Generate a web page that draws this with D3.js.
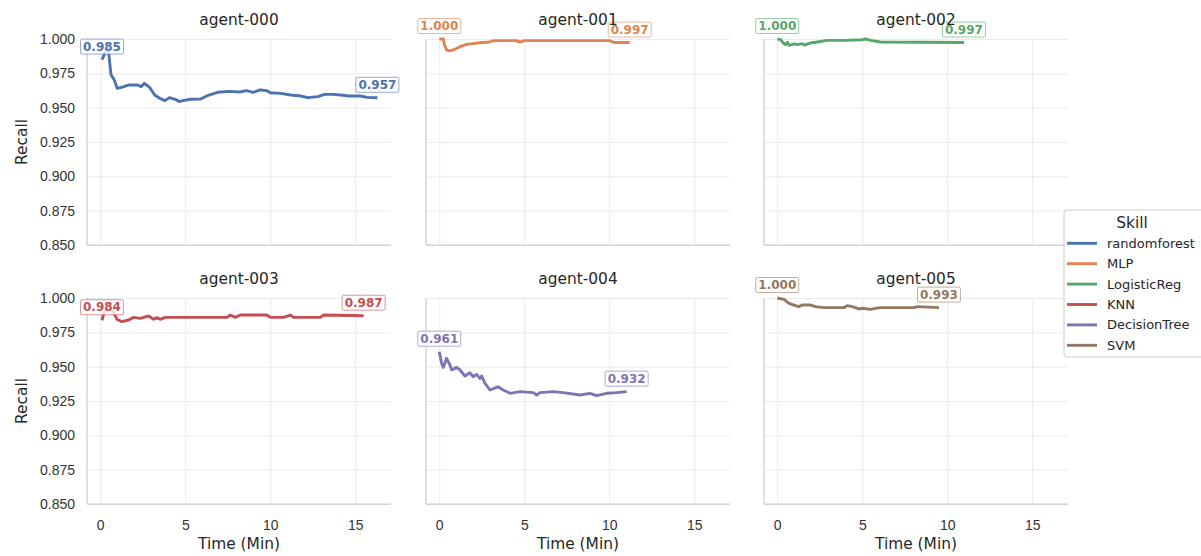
<!DOCTYPE html>
<html>
<head>
<meta charset="utf-8">
<script src="https://cdn.jsdelivr.net/npm/d3@7/dist/d3.min.js"></script>
<style>
  body { margin: 0; background: #fff; }
  svg { font-family: "DejaVu Sans", sans-serif; }
</style>
</head>
<body>
<svg id="chart" width="1201" height="556"></svg>
<script>
var agents = ["agent-000", "agent-001", "agent-002", "agent-003", "agent-004", "agent-005"];
var skills = ["randomforest", "MLP", "LogisticReg", "KNN", "DecisionTree", "SVM"];
var colors = ["#4c72b0", "#dd8452", "#55a868", "#c44e52", "#8172b3", "#937860"];
var xTicks = [0, 5, 10, 15];
var yTicks = [0.85, 0.875, 0.9, 0.925, 0.95, 0.975, 1.0];

// time in minutes / recall
var t000 = [0.1, 0.25, 0.35, 0.47, 0.63, 0.83, 1.0, 1.3, 1.65, 2.2, 2.4, 2.6, 2.9, 3.2, 3.5, 3.8, 4.07, 4.4,
            4.65, 4.86, 5.3, 5.9, 6.3, 6.9, 7.6, 8.2, 8.6, 9.0, 9.4, 9.8, 10.0, 10.6, 11.2, 11.8, 12.2, 12.8,
            13.2, 13.7, 14.3, 14.6, 15.3, 15.7, 16.3];
var r000 = [0.985, 0.989, 0.993, 0.993, 0.974, 0.970, 0.964, 0.965, 0.9665, 0.9665, 0.9653, 0.9677, 0.9648,
            0.9592, 0.9568, 0.9551, 0.9573, 0.9561, 0.9544, 0.9551, 0.9561, 0.9563, 0.9587, 0.9612, 0.9619,
            0.9614, 0.9624, 0.9612, 0.9629, 0.9624, 0.9609, 0.9604, 0.9592, 0.9585, 0.9573, 0.958, 0.9597,
            0.9597, 0.959, 0.9585, 0.9585, 0.9575, 0.9572];

var t001 = [0, 0.24, 0.3, 0.43, 0.63, 0.92, 1.22, 1.61, 2.1, 2.4, 2.98, 3.18, 4.5, 4.7, 4.85, 5.0, 10.0, 10.3, 11.2];
var r001 = [1.0, 1.0, 0.996, 0.992, 0.9913, 0.9925, 0.9944, 0.9961, 0.9968, 0.9973, 0.9978, 0.9988, 0.9988,
            0.998, 0.998, 0.9988, 0.9988, 0.9974, 0.9974];

var t002 = [0, 0.2, 0.35, 0.49, 0.59, 0.69, 0.98, 1.18, 1.47, 1.61, 1.96, 2.35, 2.94, 3.92, 5.0, 5.2, 5.49, 6.08, 10.98];
var r002 = [1.0, 0.9995, 0.9971, 0.9959, 0.9976, 0.9954, 0.9964, 0.9959, 0.9966, 0.9956, 0.9971, 0.9978,
            0.999, 0.999, 0.9995, 1.0, 0.999, 0.9978, 0.9974];

var t003 = [0.1, 0.24, 0.49, 0.78, 0.98, 1.27, 1.67, 1.96, 2.35, 2.84, 3.14, 3.33, 3.53, 3.82, 7.45, 7.65, 7.94,
            8.24, 9.8, 10.0, 10.78, 11.18, 11.37, 12.94, 13.14, 15.49];
var r003 = [0.9838, 0.990, 0.9917, 0.990, 0.9845, 0.9828, 0.984, 0.9859, 0.9852, 0.9869, 0.9845, 0.9857,
            0.9845, 0.9859, 0.9859, 0.9876, 0.9859, 0.9876, 0.9876, 0.9859, 0.9859, 0.9876, 0.9859, 0.9859,
            0.9876, 0.9871];

var t004 = [0, 0.14, 0.24, 0.43, 0.63, 0.73, 1.02, 1.22, 1.51, 1.8, 2.0, 2.2, 2.39, 2.49, 2.69, 2.98, 3.47, 3.76,
            4.16, 4.75, 5.53, 5.73, 5.92, 6.71, 7.29, 8.27, 8.86, 9.25, 9.84, 10.43, 11.02];
var r004 = [0.9609, 0.9524, 0.9495, 0.9561, 0.9512, 0.9476, 0.9495, 0.9476, 0.9432, 0.9456, 0.9427, 0.9444,
            0.9415, 0.9432, 0.9379, 0.933, 0.9354, 0.933, 0.9306, 0.9318, 0.9311, 0.9294, 0.9311, 0.9318,
            0.9311, 0.9294, 0.9306, 0.9289, 0.9306, 0.9311, 0.9318];

var t005 = [0, 0.39, 0.69, 0.98, 1.27, 1.47, 1.96, 2.25, 2.75, 3.92, 4.12, 4.41, 4.8, 5.0, 5.49, 5.78, 6.08,
            8.04, 8.24, 9.51];
var r005 = [1.0, 0.999, 0.9961, 0.9949, 0.9937, 0.9949, 0.9949, 0.9937, 0.993, 0.993, 0.9944, 0.9937, 0.992,
            0.9925, 0.9917, 0.9925, 0.993, 0.993, 0.9937, 0.993];

var times = [t000, t001, t002, t003, t004, t005];
var recalls = [r000, r001, r002, r003, r004, r005];

var svg = d3.select("#chart");
var width = 304, height = 206;
var cols = [87, 426, 764], rows = [39, 298];

var x = d3.scaleLinear().domain([-0.78, 17.1]).range([0, width]);
var y = d3.scaleLinear().domain([0.85, 1.0]).range([height, 0]);
var fmt = d3.format(".3f");

var line = d3.line()
    .x(function (d) { return x(d[0]); })
    .y(function (d) { return y(d[1]); });

function label(g, px, py, text, color) {
    var lg = g.append("g");
    var rect = lg.append("rect");
    var txt = lg.append("text")
        .attr("x", px).attr("y", py - 13)
        .attr("text-anchor", "middle")
        .attr("dominant-baseline", "central")
        .attr("font-size", "12px")
        .attr("font-weight", "bold")
        .attr("fill", color)
        .text(text);
    var w = txt.node().getComputedTextLength() + 5;
    rect.attr("x", px - w / 2).attr("y", py - 20.5).attr("width", w).attr("height", 15)
        .attr("rx", 1.5)
        .attr("fill", "#fff").attr("fill-opacity", 0.8)
        .attr("stroke", color).attr("stroke-opacity", 0.6).attr("stroke-width", 1);
}

agents.forEach(function (name, i) {
    var col = i % 3, row = Math.floor(i / 3);
    var g = svg.append("g").attr("transform", "translate(" + cols[col] + "," + rows[row] + ")");

    var gy = g.append("g")
        .call(d3.axisLeft(y).tickValues(yTicks).tickSize(-width).tickPadding(12).tickFormat(fmt));
    gy.select(".domain").remove();
    gy.selectAll("line").attr("stroke", "#ebebeb").attr("stroke-width", 1);
    gy.selectAll("text").attr("font-size", "14px").attr("fill", "#333")
        .style("display", col === 0 ? null : "none");

    var gx = g.append("g").attr("transform", "translate(0," + height + ")")
        .call(d3.axisBottom(x).tickValues(xTicks).tickSize(-height).tickPadding(16));
    gx.select(".domain").remove();
    gx.selectAll("line").attr("stroke", "#ebebeb").attr("stroke-width", 1);
    gx.selectAll("text").attr("font-size", "14px").attr("fill", "#333")
        .style("display", row === 1 ? null : "none");

    // left / bottom spines only
    g.append("line").attr("x1", 0).attr("x2", 0).attr("y1", 0).attr("y2", height)
        .attr("stroke", "#cccccc").attr("stroke-width", 1.25);
    g.append("line").attr("x1", 0).attr("x2", width).attr("y1", height).attr("y2", height)
        .attr("stroke", "#cccccc").attr("stroke-width", 1.25);

    var pts = d3.zip(times[i], recalls[i]);
    g.append("path").datum(pts)
        .attr("d", line)
        .attr("fill", "none")
        .attr("stroke", colors[i])
        .attr("stroke-width", 2.9)
        .attr("stroke-linejoin", "round");

    var first = pts[0], last = pts[pts.length - 1];
    label(g, x(first[0]), y(first[1]), fmt(first[1]), colors[i]);
    label(g, x(last[0]), y(last[1]), fmt(last[1]), colors[i]);

    g.append("text")
        .attr("x", width / 2).attr("y", -14.5)
        .attr("text-anchor", "middle")
        .attr("font-size", "15.4px").attr("fill", "#262626")
        .text(name);

    if (row === 1) {
        g.append("text")
            .attr("x", width / 2).attr("y", height + 45)
            .attr("text-anchor", "middle")
            .attr("font-size", "15.4px").attr("fill", "#262626")
            .text("Time (Min)");
    }
    if (col === 0) {
        g.append("text")
            .attr("transform", "translate(" + (26.5 - cols[0]) + "," + (height / 2) + ") rotate(-90)")
            .attr("text-anchor", "middle")
            .attr("font-size", "15.4px").attr("fill", "#262626")
            .text("Recall");
    }
});

// legend
var lg = svg.append("g").attr("transform", "translate(1064,210)");
lg.append("rect").attr("width", 150).attr("height", 147).attr("rx", 3)
    .attr("fill", "#fff").attr("fill-opacity", 0.8)
    .attr("stroke", "#cccccc").attr("stroke-width", 1);
lg.append("text").attr("x", 68).attr("y", 18)
    .attr("text-anchor", "middle")
    .attr("font-size", "15.4px").attr("fill", "#262626")
    .text("Skill");
skills.forEach(function (s, i) {
    var yy = 33.3 + i * 20.4;
    lg.append("line").attr("x1", 3).attr("x2", 33).attr("y1", yy).attr("y2", yy)
        .attr("stroke", colors[i]).attr("stroke-width", 2.9);
    lg.append("text").attr("x", 43).attr("y", yy)
        .attr("dominant-baseline", "central")
        .attr("font-size", "13px").attr("fill", "#262626")
        .text(s);
});
</script>
</body>
</html>
